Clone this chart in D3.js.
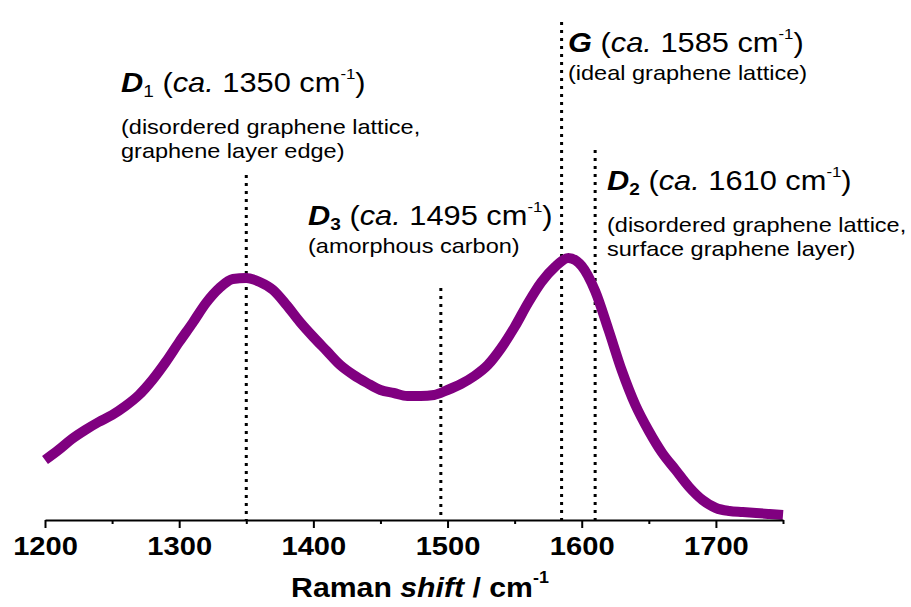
<!DOCTYPE html>
<html>
<head>
<meta charset="utf-8">
<script src="https://cdn.jsdelivr.net/npm/d3@7"></script>
<style>
  body { margin: 0; background: #fff; }
  svg { display: block; font-family: "Liberation Sans", Arial, sans-serif; }
</style>
</head>
<body>
<div id="container"></div>
<script>
// Raman spectrum (intensity in arbitrary units)
var shift = [1200, 1210, 1220, 1230, 1240, 1250, 1260, 1270, 1280, 1290,
             1300, 1310, 1320, 1330, 1340, 1350, 1360, 1370, 1380, 1390,
             1400, 1410, 1420, 1430, 1440, 1450, 1460, 1470, 1480, 1490,
             1500, 1510, 1520, 1530, 1540, 1550, 1560, 1570, 1580, 1590,
             1600, 1610, 1620, 1630, 1640, 1650, 1660, 1670, 1680, 1690,
             1700, 1710, 1720, 1730, 1740, 1750];
var intensity = [60, 70, 81, 90, 98, 105, 114, 125, 140, 158,
                 178, 197, 217, 232, 241, 242, 238, 230, 215, 198,
                 183, 169, 155, 145, 137, 130, 127, 124, 124, 125,
                 130, 136, 144, 155, 172, 193, 217, 238, 253, 262,
                 254, 229, 190, 149, 115, 89, 67, 50, 33, 20,
                 12, 9, 8, 7, 6, 5];

// band positions and the height (same units) each dotted marker reaches
var bandNames = ["D1", "D3", "G", "D2"];
var bandShift = [1350, 1495, 1585, 1610];
var bandTop = [345, 232, 498, 370];

var majorTicks = [1200, 1300, 1400, 1500, 1600, 1700];
var minorTicks = [1250, 1350, 1450, 1550, 1650, 1750];

var width = 911, height = 607;
var stretch = 1.12; // text in the original is a bit wider than tall

var svg = d3.select("#container").append("svg")
    .attr("width", width)
    .attr("height", height);

var x = d3.scaleLinear().domain([1200, 1750]).range([45, 783]);
var y = d3.scaleLinear().domain([0, 500]).range([520, 20]);

var data = shift.map(function (s, i) { return { s: s, v: intensity[i] }; });

// dotted band markers
svg.selectAll(".band")
    .data(bandShift)
    .enter()
    .append("line")
    .attr("class", "band")
    .attr("x1", function (d) { return x(d); })
    .attr("x2", function (d) { return x(d); })
    .attr("y1", function (d, i) { return y(bandTop[i]); })
    .attr("y2", y(0))
    .attr("stroke", "#000")
    .attr("stroke-width", 3)
    .attr("stroke-dasharray", "3,5");

// spectrum
var line = d3.line()
    .x(function (d) { return x(d.s); })
    .y(function (d) { return y(d.v); })
    .curve(d3.curveMonotoneX);

svg.append("path")
    .datum(data)
    .attr("d", line)
    .attr("fill", "none")
    .attr("stroke", "#800080")
    .attr("stroke-width", 10)
    .attr("stroke-linejoin", "round");

// x axis
var xAxis = svg.append("g")
    .attr("transform", "translate(0," + y(0) + ")")
    .call(d3.axisBottom(x).tickValues(majorTicks).tickSize(8).tickSizeOuter(0).tickFormat(d3.format("d")));
xAxis.select(".domain").attr("stroke-width", 2);
xAxis.selectAll(".tick line").attr("stroke-width", 2);
xAxis.selectAll(".tick text")
    .attr("y", 0)
    .attr("dy", 0)
    .attr("transform", "translate(0,35) scale(" + stretch + ",1)")
    .attr("fill", "#000")
    .style("font-family", "'Liberation Sans', Arial, sans-serif")
    .style("font-size", "26px")
    .style("font-weight", "bold");

var minor = svg.append("g")
    .attr("transform", "translate(0," + y(0) + ")")
    .call(d3.axisBottom(x).tickValues(minorTicks).tickSize(4).tickSizeOuter(0).tickFormat(""));
minor.select(".domain").remove();
minor.selectAll(".tick line").attr("stroke-width", 2);

// axis title
var title = svg.append("text")
    .attr("transform", "translate(420,597) scale(" + stretch + ",1)")
    .attr("text-anchor", "middle")
    .style("font-size", "27px")
    .style("font-weight", "bold");
title.append("tspan").text("Raman ");
title.append("tspan").style("font-style", "italic").text("shift");
title.append("tspan").text(" / cm");
title.append("tspan").attr("dy", -14).style("font-size", "16px").text("-1");

// band annotations
var labels = [
    { name: "D", sub: "1", subBold: false, num: "1350", desc: ["(disordered graphene lattice,", "graphene layer edge)"], x: 121, y: 92, gap: 42 },
    { name: "D", sub: "3", subBold: true, num: "1495", desc: ["(amorphous carbon)"], x: 308, y: 225, gap: 28 },
    { name: "G", sub: "", subBold: true, num: "1585", desc: ["(ideal graphene lattice)"], x: 568, y: 52, gap: 28 },
    { name: "D", sub: "2", subBold: true, num: "1610", desc: ["(disordered graphene lattice,", "surface graphene layer)"], x: 607, y: 190, gap: 42 }
];

labels.forEach(function (l) {
    var t = svg.append("text")
        .attr("transform", "translate(" + l.x + "," + l.y + ") scale(" + stretch + ",1)")
        .style("font-size", "27.5px");
    t.append("tspan").style("font-weight", "bold").style("font-style", "italic").text(l.name);
    if (l.sub) {
        t.append("tspan").attr("dy", 5).style("font-size", "17px")
            .style("font-weight", l.subBold ? "bold" : "normal").text(l.sub);
        t.append("tspan").attr("dy", -5).text(" (");
    } else {
        t.append("tspan").text(" (");
    }
    t.append("tspan").style("font-style", "italic").text("ca.");
    t.append("tspan").text(" " + l.num + " cm");
    t.append("tspan").attr("dy", -13).style("font-size", "15px").text("-1");
    t.append("tspan").attr("dy", 13).text(")");

    l.desc.forEach(function (s, i) {
        svg.append("text")
            .attr("transform", "translate(" + l.x + "," + (l.y + l.gap + i * 24) + ") scale(" + stretch + ",1)")
            .style("font-size", "21px")
            .text(s);
    });
});
</script>
</body>
</html>
